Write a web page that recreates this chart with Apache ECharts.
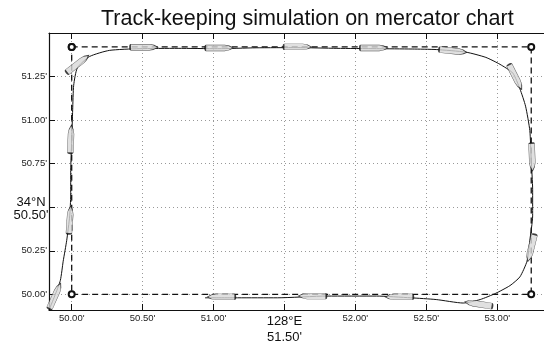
<!DOCTYPE html>
<html>
<head>
<meta charset="utf-8">
<script src="https://cdn.jsdelivr.net/npm/echarts@6/dist/echarts.min.js"></script>
<style>
  html, body { margin: 0; padding: 0; background: #fff; }
  #chart { width: 544px; height: 345px; }
</style>
</head>
<body>
<div id="chart"></div>
<script>
// minutes of longitude (128°E) and latitude (34°N)
const xTicks = [50.0, 50.5, 51.0, 51.5, 52.0, 52.5, 53.0];
const yTicks = [50.0, 50.25, 50.5, 50.75, 51.0, 51.25];

// planned route (waypoints)
const routeLon = [50.0, 53.24, 53.24, 50.0, 50.0];
const routeLat = [51.42, 51.42, 50.0, 50.0, 51.42];

// simulated ship track
const trackLon = [49.84, 49.88, 49.92, 49.94, 49.965, 49.986, 49.993, 49.993, 50.0, 50.007, 50.014,
  50.04, 50.126, 50.265, 50.475, 50.75, 51.03, 51.3, 51.59, 51.87, 52.15, 52.4, 52.57, 52.78,
  52.92, 53.02, 53.11, 53.16, 53.2, 53.23, 53.24, 53.25, 53.25, 53.23, 53.21, 53.16, 53.09,
  52.99, 52.88, 52.76, 52.57, 52.39, 52.15, 51.8, 51.45, 51.17, 50.94];
const trackLat = [49.91, 49.99, 50.08, 50.19, 50.31, 50.45, 50.57, 50.71, 50.88, 51.06, 51.2,
  51.3, 51.365, 51.4, 51.41, 51.412, 51.41, 51.415, 51.416, 51.412, 51.41, 51.408, 51.405, 51.39,
  51.36, 51.32, 51.27, 51.18, 51.08, 50.94, 50.77, 50.6, 50.45, 50.31, 50.19, 50.1, 50.05,
  50.006, 49.97, 49.95, 49.97, 49.98, 49.99, 49.99, 49.98, 49.98, 49.98];

// ship outlines drawn along the track: position and heading (deg, ccw from east)
const shipLon = [49.882, 49.987, 49.994, 50.042, 50.51, 51.04, 51.592, 52.13, 52.688, 53.128,
  53.246, 53.24, 52.869, 52.31, 51.697, 51.055];
const shipLat = [49.99, 50.427, 50.89, 51.322, 51.418, 51.414, 51.42, 51.414, 51.397, 51.248,
  50.788, 50.266, 49.944, 49.985, 49.99, 49.985];
const shipHeading = [66, 86, 88, 38, 0, 0, 0, 0, -6, -63, -88, -104, 171, 180, 180, 180];

const hull = 'path://M2,0 L32,0 C37,0 43,3 46,5 C43,7 37,10 32,10 L2,10 C0,10 0,0 2,0 Z';

const chart = echarts.init(document.getElementById('chart'));

const axisCommon = {
  type: 'value',
  axisLine: { show: true, onZero: false, lineStyle: { color: '#111', width: 1.2 } },
  axisTick: { show: true, inside: true, length: 6, lineStyle: { color: '#111' } }
};
const gridLine = { show: true, lineStyle: { type: [1, 3], color: '#999', width: 1 } };

chart.setOption({
  animation: false,
  title: {
    text: 'Track-keeping simulation on mercator chart',
    left: 96,
    top: 3,
    textStyle: { fontFamily: 'Liberation Sans', fontSize: 21.5, fontWeight: 'normal', color: '#111' }
  },
  grid: { left: 49, top: 33, width: 500, height: 277 },
  xAxis: [
    Object.assign({}, axisCommon, {
      min: 49.84, max: 53.33, position: 'bottom',
      axisTick: Object.assign({}, axisCommon.axisTick, { customValues: xTicks }),
      axisLabel: {
        customValues: xTicks,
        margin: 3,
        fontFamily: 'Liberation Sans', fontSize: 9.5, color: '#222',
        formatter: function (v) {
          if (Math.abs(v - 51.5) < 1e-6) return '{b|128°E}\n{b|51.50\'}';
          return v.toFixed(2) + '\'';
        },
        rich: { b: { fontFamily: 'Liberation Sans', fontSize: 13, lineHeight: 16, color: '#111' } }
      },
      splitLine: gridLine
    }),
    Object.assign({}, axisCommon, {
      min: 49.84, max: 53.33, position: 'top',
      axisTick: Object.assign({}, axisCommon.axisTick, { customValues: xTicks }),
      axisLabel: { show: false },
      splitLine: { show: false }
    })
  ],
  yAxis: [
    Object.assign({}, axisCommon, {
      min: 49.91, max: 51.5, position: 'left',
      axisTick: Object.assign({}, axisCommon.axisTick, { customValues: yTicks }),
      axisLabel: {
        customValues: yTicks,
        margin: 2,
        fontFamily: 'Liberation Sans', fontSize: 9.5, color: '#222',
        formatter: function (v) {
          if (Math.abs(v - 50.5) < 1e-6) return '{b|34°N}\n{b|50.50\'}';
          return v.toFixed(2) + '\'';
        },
        rich: { b: { fontFamily: 'Liberation Sans', fontSize: 13, lineHeight: 13, width: 32, align: 'center', color: '#111', padding: [4, 0, 0, 0] } }
      },
      splitLine: gridLine
    })
  ],
  series: [
    {
      name: 'route',
      type: 'line',
      data: routeLon.map((x, i) => [x, routeLat[i]]),
      symbol: 'emptyCircle',
      symbolSize: 6,
      itemStyle: { color: '#111', borderColor: '#111', borderWidth: 1 },
      lineStyle: { color: '#111', width: 1.3, type: [6, 4] },
      z: 2
    },
    {
      name: 'track',
      type: 'line',
      data: trackLon.map((x, i) => [x, trackLat[i]]),
      symbol: 'none',
      smooth: 0.2,
      lineStyle: { color: '#111', width: 1 },
      z: 3
    },
    {
      name: 'ship',
      type: 'scatter',
      data: shipLon.map((x, i) => [x, shipLat[i], shipHeading[i]]),
      symbol: hull,
      symbolSize: [28, 6],
      symbolRotate: function (v) { return v[2]; },
      itemStyle: { color: '#d8d8d8', borderColor: '#111', borderWidth: 0.8 },
      z: 4
    }
  ]
});
</script>
</body>
</html>
